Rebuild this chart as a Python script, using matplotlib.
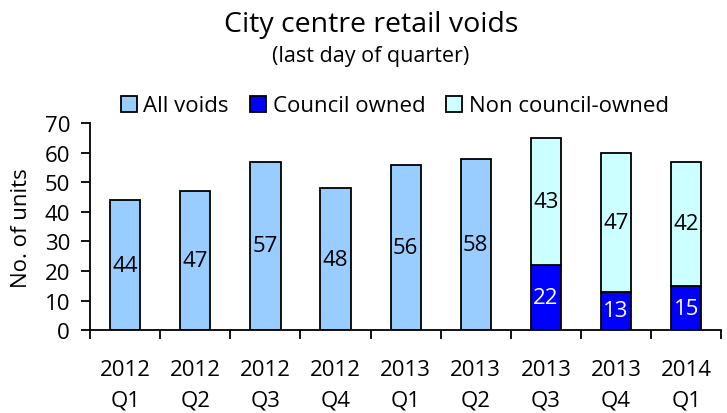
import numpy as np
import matplotlib
matplotlib.use('Agg')
import matplotlib.pyplot as plt
from matplotlib.ticker import FixedLocator

# Daten
quarters = ['2012\nQ1', '2012\nQ2', '2012\nQ3', '2012\nQ4', '2013\nQ1',
            '2013\nQ2', '2013\nQ3', '2013\nQ4', '2014\nQ1']
all_voids = [44, 47, 57, 48, 56, 58]
council_owned = [22, 13, 15]
non_council = [43, 47, 42]

plt.rcParams['font.family'] = ['Open Sans', 'DejaVu Sans']
fs = 16

fig = plt.figure(figsize=(7.27, 4.14), dpi=100)
ax = fig.add_axes([0.124, 0.2, 0.868, 0.5])

x = np.arange(len(quarters))
n_all = len(all_voids)
w = 0.43

b1 = ax.bar(x[:n_all], all_voids, width=w, color='#99CCFF', edgecolor='black',
            linewidth=1.3, label='All voids')
b2 = ax.bar(x[n_all:], council_owned, width=w, color='#0000FF', edgecolor='black',
            linewidth=1.3, label='Council owned')
b3 = ax.bar(x[n_all:], non_council, width=w, bottom=council_owned, color='#CCFFFF',
            edgecolor='black', linewidth=1.3, label='Non council-owned')

ax.bar_label(b1, label_type='center', fontsize=fs)
ax.bar_label(b2, label_type='center', fontsize=fs, color='white')
ax.bar_label(b3, label_type='center', fontsize=fs)

ax.set_xlim(-0.5, len(quarters) - 0.5)
ax.set_ylim(0, 70)
ax.set_yticks(range(0, 71, 10))
ax.set_xticks(x)
ax.set_xticklabels(quarters, fontsize=fs, linespacing=1.55)
ax.xaxis.set_minor_locator(FixedLocator(np.arange(-0.5, len(quarters), 1)))
ax.tick_params(axis='x', which='major', length=0, pad=21)
ax.tick_params(axis='x', which='minor', length=6.5, width=1.3, direction='out')
ax.tick_params(axis='y', labelsize=fs, length=6.5, width=1.3, direction='out', pad=8)

for s in ['top', 'right']:
    ax.spines[s].set_visible(False)
for s in ['left', 'bottom']:
    ax.spines[s].set_linewidth(1.3)

ax.set_ylabel('No. of units', fontsize=fs, labelpad=9)

fig.text(0.51, 0.923, 'City centre retail voids', ha='center', va='baseline', fontsize=20.5)
fig.text(0.51, 0.85, '(last day of quarter)', ha='center', va='baseline', fontsize=15.5)

ax.legend(loc='lower center', bbox_to_anchor=(0.483, 0.99), ncol=3, frameon=False,
          fontsize=fs, handlelength=0.72, handleheight=0.72, handletextpad=0.3,
          columnspacing=0.95, borderaxespad=0.0)

fig.savefig('out.png', dpi=100)
